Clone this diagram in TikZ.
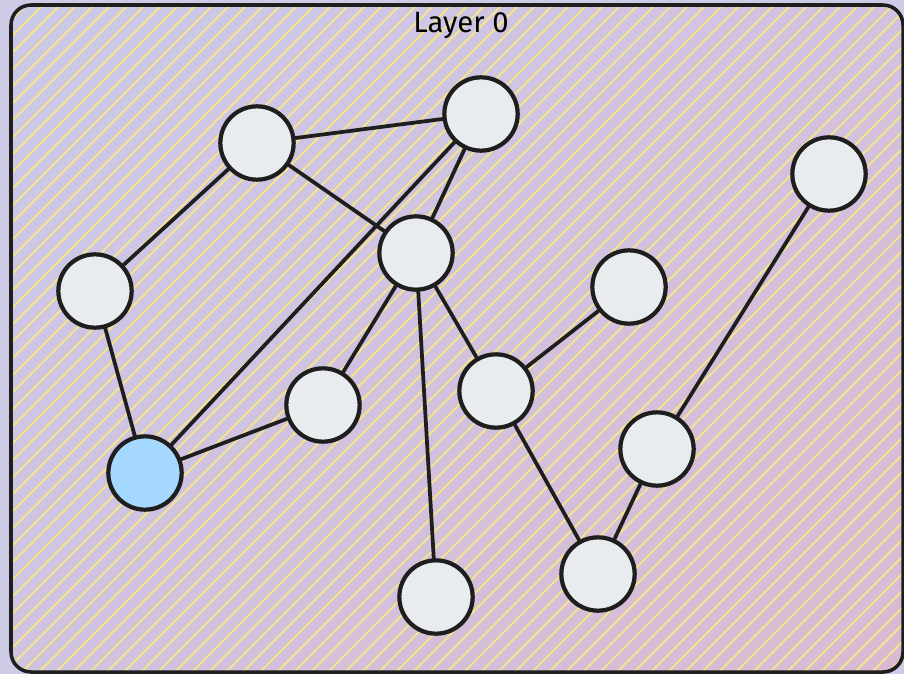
\documentclass[tikz,border=0pt]{standalone}
\usepackage{fontspec}
\setmainfont{Fira Sans}
\usepackage{tikz}
\usetikzlibrary{arrows.meta,calc,shadings}

\definecolor{outerbg}{HTML}{CECBE7}
\definecolor{bgul}{HTML}{CBC9E8}
\definecolor{bgur}{HTML}{D2C2DF}
\definecolor{bgll}{HTML}{D0C3E0}
\definecolor{bglr}{HTML}{D9BAD2}
\definecolor{hatch}{HTML}{F4E48C}
\definecolor{ink}{HTML}{1E1E1E}
\definecolor{nodegray}{HTML}{E9ECEF}
\definecolor{nodeblue}{HTML}{A5D8FF}

\tikzset{
  vertex/.style={circle, draw=ink, line width=3.6pt, fill=nodegray,
                 minimum size=2.2cm, inner sep=0pt},
  start/.style={vertex, fill=nodeblue},
  link/.style={draw=ink, line width=3.2pt, line cap=round},
  hatchline/.style={draw=hatch, line width=1.7pt}
}

\begin{document}
\begin{tikzpicture}[x=0.03cm, y=-0.03cm]

    \useasboundingbox (0,0) rectangle (904,674);
    \fill[outerbg] (0,0) rectangle (904,674);

    % layer panel with hatching
    \begin{scope}
      \clip[rounded corners=0.6cm] (11,5) rectangle (903,672);
      \shade[upper left=bgul, upper right=bgur, lower left=bgll, lower right=bglr]
        (11,5) rectangle (903,672);
      \foreach \k in {-700,-683,...,920}
        \draw[hatchline] (\k,680) -- ++(680,-680);
    \end{scope}
    \draw[ink, line width=3pt, rounded corners=0.6cm] (11,5) rectangle (903,672);

    \node (title) at (461,26) {\fontsize{25}{30}\selectfont Layer 0};

    % vertices
    \node[vertex] (a) at (257,143) {};
    \node[vertex] (b) at (481,114) {};
    \node[vertex] (c) at (416,253) {};
    \node[vertex] (d) at (95,291) {};
    \node[vertex] (e) at (323,405) {};
    \node[start]  (f) at (145,473) {};
    \node[vertex] (g) at (629,287) {};
    \node[vertex] (h) at (496,391) {};
    \node[vertex] (i) at (829,174) {};
    \node[vertex] (j) at (657,449) {};
    \node[vertex] (k) at (598,574) {};
    \node[vertex] (l) at (436,597) {};

    % edges
    \foreach \u/\v in {a/b, a/d, a/c, b/c, b/f, c/e, c/l, c/h,
                       d/f, f/e, h/g, h/k, j/k, j/i}
      \draw[link] (\u) -- (\v);

\end{tikzpicture}
\end{document}
